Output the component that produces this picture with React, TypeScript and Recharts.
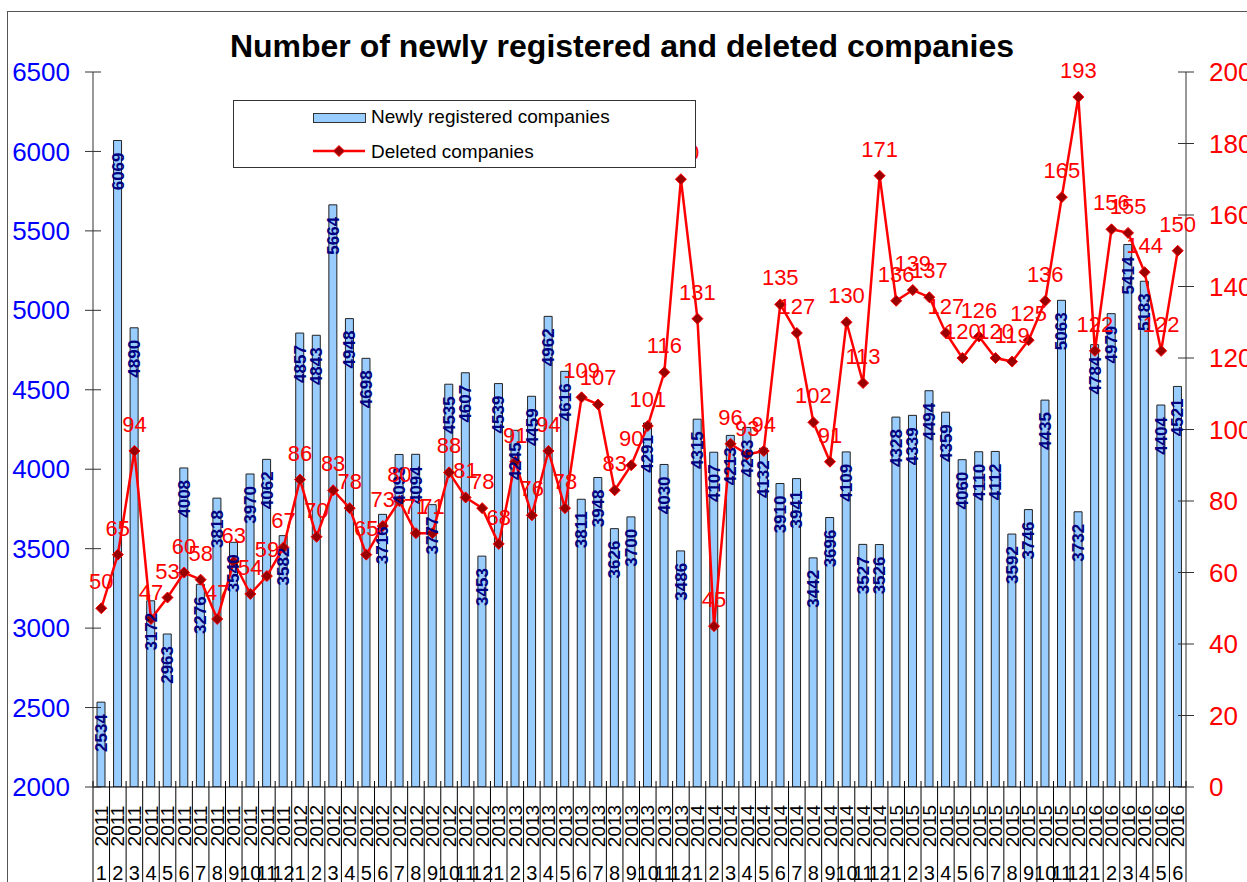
import { ComposedChart, Bar, Line, XAxis, YAxis, LabelList } from "recharts";

const categories = [
  "2011-1", "2011-2", "2011-3", "2011-4", "2011-5", "2011-6", "2011-7", "2011-8", "2011-9", "2011-10", "2011-11", "2011-12",
  "2012-1", "2012-2", "2012-3", "2012-4", "2012-5", "2012-6", "2012-7", "2012-8", "2012-9", "2012-10", "2012-11", "2012-12",
  "2013-1", "2013-2", "2013-3", "2013-4", "2013-5", "2013-6", "2013-7", "2013-8", "2013-9", "2013-10", "2013-11", "2013-12",
  "2014-1", "2014-2", "2014-3", "2014-4", "2014-5", "2014-6", "2014-7", "2014-8", "2014-9", "2014-10", "2014-11", "2014-12",
  "2015-1", "2015-2", "2015-3", "2015-4", "2015-5", "2015-6", "2015-7", "2015-8", "2015-9", "2015-10", "2015-11", "2015-12",
  "2016-1", "2016-2", "2016-3", "2016-4", "2016-5", "2016-6",
];

const newlyRegistered = [
  2534, 6069, 4890, 3172, 2963, 4008, 3276, 3818, 3540, 3970, 4062, 3582,
  4857, 4843, 5664, 4948, 4698, 3716, 4093, 4094, 3777, 4535, 4607, 3453,
  4539, 4245, 4459, 4962, 4616, 3811, 3948, 3626, 3700, 4291, 4030, 3486,
  4315, 4107, 4213, 4263, 4132, 3910, 3941, 3442, 3696, 4109, 3527, 3526,
  4328, 4339, 4494, 4359, 4060, 4110, 4112, 3592, 3746, 4435, 5063, 3732,
  4784, 4979, 5414, 5183, 4404, 4521,
];

const deleted = [
  50, 65, 94, 47, 53, 60, 58, 47, 63, 54, 59, 67,
  86, 70, 83, 78, 65, 73, 80, 71, 71, 88, 81, 78,
  68, 91, 76, 94, 78, 109, 107, 83, 90, 101, 116, 170,
  131, 45, 96, 93, 94, 135, 127, 102, 91, 130, 113, 171,
  136, 139, 137, 127, 120, 126, 120, 119, 125, 136, 165, 193,
  122, 156, 155, 144, 122, 150,
];

const leftTicks = [2000, 2500, 3000, 3500, 4000, 4500, 5000, 5500, 6000, 6500];
const rightTicks = [0, 20, 40, 60, 80, 100, 120, 140, 160, 180, 200];

const data = categories.map((period, i) => ({
  period,
  registered: newlyRegistered[i],
  deleted: deleted[i],
}));

const W = 1247;
const H = 882;
const FONT = '"Liberation Sans", Arial, sans-serif';
const slot = (W - 93 - 61) / categories.length;

const LeftTick = (props: any) => {
  const { x, y, payload } = props;
  return (
    <g>
      <line x1={x - 8} x2={x + 8} y1={y} y2={y} stroke="#333" />
      <text x={x - 23} y={y} dy="0.35em" textAnchor="end" fill="#0000FF" fontSize={26} fontFamily={FONT}>
        {payload.value}
      </text>
    </g>
  );
};

const RightTick = (props: any) => {
  const { x, y, payload } = props;
  return (
    <g>
      <line x1={x - 8} x2={x + 8} y1={y} y2={y} stroke="#333" />
      <text x={x + 23} y={y} dy="0.35em" textAnchor="start" fill="#FF0000" fontSize={26} fontFamily={FONT}>
        {payload.value}
      </text>
    </g>
  );
};

const PeriodTick = (props: any) => {
  const { x, y, payload } = props;
  const [year, month] = String(payload.value).split("-");
  const last = payload.value === categories[categories.length - 1];
  return (
    <g>
      <line x1={x - slot / 2} x2={x - slot / 2} y1={y - 6} y2={H} stroke="#000" />
      {last && <line x1={x + slot / 2} x2={x + slot / 2} y1={y - 6} y2={H} stroke="#000" />}
      <text
        transform={`translate(${x},${y + 39}) rotate(-90)`}
        textAnchor="middle"
        dy="0.35em"
        fontSize={19}
        fontFamily={FONT}
        fill="#000"
      >
        {year}
      </text>
      <text x={x} y={y + 93} textAnchor="middle" fontSize={20} fontFamily={FONT} fill="#000">
        {month}
      </text>
    </g>
  );
};

const BarValue = (props: any) => {
  const { x, y, width, value } = props;
  const cx = x + width / 2;
  const top = y + 12;
  return (
    <text
      transform={`translate(${cx},${top}) rotate(-90)`}
      textAnchor="end"
      dy="0.35em"
      fill="#000080"
      fontSize={17}
      fontWeight="bold"
      fontFamily={'"Liberation Sans Narrow", "Liberation Sans", Arial, sans-serif'}
    >
      {value}
    </text>
  );
};

const LineValue = (props: any) => {
  const { x, y, value } = props;
  return (
    <text x={x} y={y - 19} textAnchor="middle" fill="#FF0000" fontSize={22} fontFamily={FONT}>
      {value}
    </text>
  );
};

const Diamond = (props: any) => {
  const { cx, cy } = props;
  if (cx == null || cy == null) return null;
  const r = 5.5;
  return (
    <polygon
      points={`${cx},${cy - r} ${cx + r},${cy} ${cx},${cy + r} ${cx - r},${cy}`}
      fill="#990000"
      stroke="#FF0000"
      strokeWidth={1}
    />
  );
};

export default function App() {
  return (
    <div style={{ position: "fixed", left: 0, top: 0, width: W, height: H, overflow: "hidden", background: "#fff" }}>
      <svg width={W} height={H} style={{ position: "absolute", left: 0, top: 0 }}>
        <rect x={7.5} y={11.5} width={W + 50} height={H + 50} fill="none" stroke="#555" />
        <text x={622} y={57} textAnchor="middle" fontSize={32} fontWeight="bold" fontFamily={FONT} fill="#000">
          Number of newly registered and deleted companies
        </text>
      </svg>
      <div style={{ position: "absolute", left: 0, top: 0 }}>
        <ComposedChart width={W} height={H} data={data} margin={{ top: 72, right: 0, bottom: 0, left: 0 }} barCategoryGap={0}>
          <XAxis
            dataKey="period"
            interval={0}
            height={95}
            tickLine={false}
            tickSize={0}
            tickMargin={0}
            axisLine={{ stroke: "#000" }}
            tick={<PeriodTick />}
          />
          <YAxis
            yAxisId="left"
            orientation="left"
            width={93}
            domain={[2000, 6500]}
            ticks={leftTicks}
            allowDataOverflow
            tickLine={false}
            tickSize={0}
            tickMargin={0}
            axisLine={{ stroke: "#333" }}
            tick={<LeftTick />}
          />
          <YAxis
            yAxisId="right"
            orientation="right"
            width={61}
            domain={[0, 200]}
            ticks={rightTicks}
            tickLine={false}
            tickSize={0}
            tickMargin={0}
            axisLine={{ stroke: "#333" }}
            tick={<RightTick />}
          />
          <Bar
            yAxisId="left"
            dataKey="registered"
            barSize={8}
            fill="#99CCFF"
            stroke="#222"
            strokeWidth={1}
            isAnimationActive={false}
          >
            <LabelList dataKey="registered" content={<BarValue />} />
          </Bar>
          <Line
            yAxisId="right"
            dataKey="deleted"
            type="linear"
            stroke="#FF0000"
            strokeWidth={2.5}
            dot={<Diamond />}
            activeDot={false}
            isAnimationActive={false}
          >
            <LabelList dataKey="deleted" content={<LineValue />} />
          </Line>
        </ComposedChart>
      </div>
      <svg width={463} height={68} style={{ position: "absolute", left: 233, top: 100 }}>
        <rect x={0.5} y={0.5} width={462} height={67} fill="#fff" stroke="#333" />
        <rect x={80.5} y={13.5} width={52} height={9} fill="#99CCFF" stroke="#333" />
        <text x={138} y={23} fontSize={19} fontFamily={FONT} fill="#000">
          Newly registered companies
        </text>
        <line x1={80} x2={132} y1={51} y2={51} stroke="#FF0000" strokeWidth={2.5} />
        <polygon points="106,45.5 111.5,51 106,56.5 100.5,51" fill="#990000" stroke="#FF0000" />
        <text x={138} y={58} fontSize={19} fontFamily={FONT} fill="#000">
          Deleted companies
        </text>
      </svg>
    </div>
  );
}
